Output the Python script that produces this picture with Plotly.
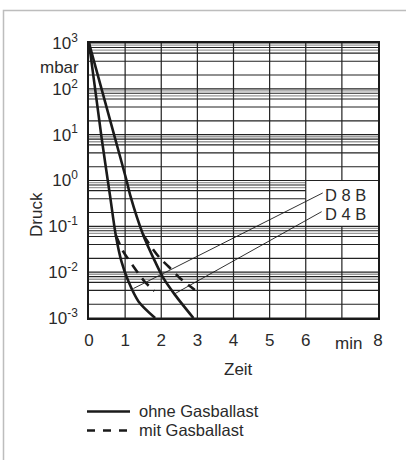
import numpy as np
import plotly.graph_objects as go

# ---------------- data ----------------
# D 8 B, ohne Gasballast (solid)
t_d8_ohne = [0, 0.35, 0.58, 0.74, 0.90, 1.09, 1.37, 1.83]
p_d8_ohne = [1000, 8.4, 0.48, 0.065, 0.017, 0.0063, 0.0023, 0.001]
# D 4 B, ohne Gasballast (solid)
t_d4_ohne = [0, 0.72, 1.04, 1.14, 1.50, 1.83, 2.06, 2.38, 2.89]
p_d4_ohne = [1000, 8.4, 1.0, 0.48, 0.065, 0.017, 0.0074, 0.0032, 0.001]
# D 8 B, mit Gasballast (dashed)
t_d8_mit = [0.74, 0.95, 1.23, 1.55, 1.81]
p_d8_mit = [0.065, 0.028, 0.0133, 0.0061, 0.0039]
# D 4 B, mit Gasballast (dashed)
t_d4_mit = [1.50, 1.78, 1.97, 2.20, 2.52, 2.93]
p_d4_mit = [0.065, 0.031, 0.020, 0.0133, 0.0074, 0.0041]

# leader lines for labels (from curve to label)
lead_d8_t = [1.23, 6.47]
lead_d8_p = [0.0044, 0.535]
lead_d4_t = [2.38, 6.44]
lead_d4_p = [0.0034, 0.209]

x_ticks = [0, 1, 2, 3, 4, 5, 6, 8]
x_ticktext = ["0", "1", "2", "3", "4", "5", "6", "8"]
y_ticks = [1e-3, 1e-2, 1e-1, 1e0, 1e1, 1e2, 1e3]
y_ticktext = ["10<sup>-3</sup>", "10<sup>-2</sup>", "10<sup>-1</sup>", "10<sup>0</sup>",
              "10<sup>1</sup>", "10<sup>2</sup>", "10<sup>3</sup>"]

decades = [1e-3, 1e-2, 1e-1, 1e0, 1e1, 1e2, 1e3]
minor_black_mult = [2, 4, 6, 8]
minor_gray_mult = [7, 9]
vert_grid = [1, 2, 3, 4, 5, 6, 7]

label_box_t = [6, 8]
label_box_p = [0.1, 1.0]

# ---------------- layout geometry (pixels) ----------------
W, H = 406, 460
L, R, T, B = 89, 378, 43, 318


def px_x(px):
    return (px - L) / (R - L)


def px_y(py):
    return (B - py) / (B - T)


FONT = "Liberation Sans, Arial, sans-serif"
TXT = "#2a2a2a"
LINE = "#1a1a1a"

fig = go.Figure()


def hlines(vals, x0=0, x1=8):
    xs, ys = [], []
    for v in vals:
        xs += [x0, x1, None]
        ys += [v, v, None]
    return xs, ys


gray_vals = [d * m for d in decades[:-1] for m in minor_gray_mult]
black_minor_vals = [d * m for d in decades[:-1] for m in minor_black_mult]

gx, gy = hlines(gray_vals)
fig.add_trace(go.Scatter(x=gx, y=gy, mode="lines", line=dict(color="#9a9a9a", width=1.3),
                         hoverinfo="skip", showlegend=False))
bx, by = hlines(black_minor_vals)
fig.add_trace(go.Scatter(x=bx, y=by, mode="lines", line=dict(color="#222", width=1.1),
                         hoverinfo="skip", showlegend=False))

# white label box covering grid
fig.add_trace(go.Scatter(
    x=[label_box_t[0], label_box_t[1], label_box_t[1], label_box_t[0], label_box_t[0]],
    y=[label_box_p[1], label_box_p[1], label_box_p[0], label_box_p[0], label_box_p[1]],
    mode="lines", fill="toself", fillcolor="white", line=dict(width=0),
    hoverinfo="skip", showlegend=False))

dx, dy = hlines(decades)
fig.add_trace(go.Scatter(x=dx, y=dy, mode="lines", line=dict(color="#222", width=1.2),
                         hoverinfo="skip", showlegend=False))

vx, vy = [], []
for v in vert_grid:
    if v == 7:
        vx += [v, v, None, v, v, None]
        vy += [1e-3, label_box_p[0], None, label_box_p[1], 1e3, None]
    else:
        vx += [v, v, None]
        vy += [1e-3, 1e3, None]
fig.add_trace(go.Scatter(x=vx, y=vy, mode="lines", line=dict(color="#222", width=1.2),
                         hoverinfo="skip", showlegend=False))

# leader lines
for tt, pp in [(lead_d8_t, lead_d8_p), (lead_d4_t, lead_d4_p)]:
    fig.add_trace(go.Scatter(x=tt, y=pp, mode="lines", line=dict(color=LINE, width=0.9),
                             hoverinfo="skip", showlegend=False))

# curves
for tt, pp in [(t_d8_ohne, p_d8_ohne), (t_d4_ohne, p_d4_ohne)]:
    fig.add_trace(go.Scatter(x=tt, y=pp, mode="lines",
                             line=dict(color=LINE, width=2.6, shape="spline", smoothing=0.8),
                             showlegend=False))
for tt, pp in [(t_d8_mit, p_d8_mit), (t_d4_mit, p_d4_mit)]:
    fig.add_trace(go.Scatter(x=tt, y=pp, mode="lines",
                             line=dict(color=LINE, width=2.6, dash="10px,7px",
                                       shape="spline", smoothing=0.8),
                             showlegend=False))

annotations = [
    dict(text="D 8 B", x=px_x(324), y=px_y(195), xanchor="left", yanchor="middle", size=16.5),
    dict(text="D 4 B", x=px_x(324), y=px_y(214), xanchor="left", yanchor="middle", size=16.5),
    dict(text="mbar", x=px_x(80), y=px_y(67), xanchor="right", yanchor="middle", size=17),
    dict(text="Druck", x=px_x(36), y=px_y(215), xanchor="center", yanchor="middle",
         textangle=-90, size=17),
    dict(text="Zeit", x=px_x(238), y=px_y(370), xanchor="center", yanchor="middle", size=17),
    dict(text="min", x=px_x(348), y=px_y(343), xanchor="center", yanchor="middle", size=17),
    dict(text="ohne Gasballast", x=px_x(138), y=px_y(411), xanchor="left", yanchor="middle",
         size=16.5),
    dict(text="mit Gasballast", x=px_x(138), y=px_y(430), xanchor="left", yanchor="middle",
         size=16.5),
]
for a in annotations:
    sz = a.pop("size")
    a.update(xref="paper", yref="paper", showarrow=False, borderpad=0,
             font=dict(family=FONT, size=sz, color=TXT))

shapes = [
    dict(type="line", xref="paper", yref="paper", x0=px_x(87), x1=px_x(130),
         y0=px_y(411.5), y1=px_y(411.5), line=dict(color=LINE, width=2.6)),
    dict(type="line", xref="paper", yref="paper", x0=px_x(87), x1=px_x(130),
         y0=px_y(430.5), y1=px_y(430.5), line=dict(color=LINE, width=2.6, dash="8px,8px")),
    dict(type="rect", xref="paper", yref="paper", x0=px_x(3.5), x1=px_x(412),
         y0=px_y(10.5), y1=px_y(470), line=dict(color="#bdbdbd", width=1.5)),
]

fig.update_layout(
    width=W, height=H,
    margin=dict(l=L, r=W - R, t=T, b=H - B, autoexpand=False),
    paper_bgcolor="white", plot_bgcolor="white",
    showlegend=False,
    annotations=annotations, shapes=shapes,
    font=dict(family=FONT, size=17, color=TXT),
)
fig.update_xaxes(range=[0, 8], tickvals=x_ticks, ticktext=x_ticktext, showgrid=False,
                 zeroline=False, showline=True, linecolor=LINE, linewidth=1.6, mirror=True,
                 automargin=False,
                 ticks="", ticklabelstandoff=6, tickfont=dict(family=FONT, size=17, color=TXT))
fig.update_yaxes(type="log", range=[-3, 3], tickvals=y_ticks, ticktext=y_ticktext,
                 showgrid=False, zeroline=False, showline=True, linecolor=LINE, linewidth=1.6,
                 mirror=True, ticks="", ticklabelstandoff=6, automargin=False,
                 tickfont=dict(family=FONT, size=17, color=TXT))

fig.write_html(
    "out.html",
    config={"displayModeBar": False},
    post_script="document.body.style.margin='0';document.body.style.overflow='hidden';",
)
